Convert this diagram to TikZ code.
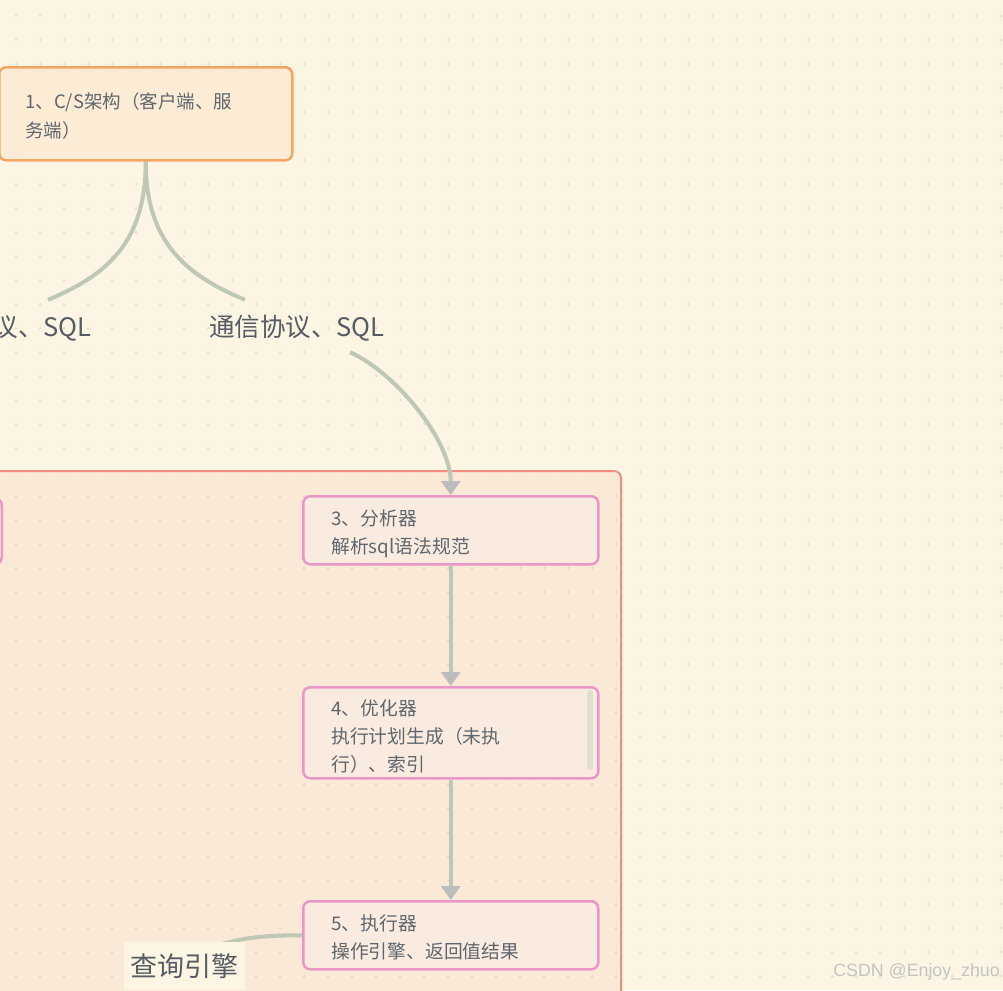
\documentclass[tikz,border=0pt]{standalone}
\usepackage{fontspec}
\newfontfamily\cjk{Noto Sans CJK SC}
\newfontfamily\wmfont{Liberation Sans}
\usetikzlibrary{arrows.meta,backgrounds,calc}
\definecolor{bgc}{RGB}{252,245,227}
\definecolor{dotc}{RGB}{205,200,185}
\definecolor{grpfill}{RGB}{251,233,216}
\definecolor{grpdraw}{RGB}{245,140,130}
\definecolor{pinkdraw}{RGB}{233,150,200}
\definecolor{pinkfill}{RGB}{250,235,224}
\definecolor{orgdraw}{RGB}{245,165,100}
\definecolor{orgfill}{RGB}{252,236,214}
\definecolor{txtc}{RGB}{95,103,110}
\definecolor{labc}{RGB}{85,92,100}
\definecolor{connc}{RGB}{190,200,180}
\definecolor{arrc}{RGB}{188,188,188}
\definecolor{wmc}{RGB}{195,195,195}
\definecolor{scrollc}{RGB}{226,222,204}
\pgfdeclarelayer{edges}
\pgfsetlayers{background,edges,main}
\tikzset{
  pbox/.style={draw=pinkdraw, fill=pinkfill, line width=2.5pt, rounded corners=7pt,
    align=left, inner xsep=28pt, inner ysep=0pt, text width=239pt, minimum width=295pt,
    text=txtc, font=\cjk\fontsize{18.8}{28}\selectfont, anchor=north west},
  obox/.style={draw=orgdraw, fill=orgfill, line width=2.5pt, rounded corners=7pt,
    align=left, inner xsep=26pt, inner ysep=0pt, text width=241pt, minimum width=293pt,
    text=txtc, font=\cjk\fontsize{18.5}{29}\selectfont, anchor=north west},
  lab/.style={text=labc, font=\cjk\fontsize{25.5}{28}\selectfont, minimum height=48pt, inner xsep=6pt},
  conn/.style={draw=connc, line width=4pt},
  arr/.style={-{Triangle[width=19pt,length=14pt,color=arrc]}}
}
\begin{document}
\begin{tikzpicture}[x=1pt,y=-1pt]
\useasboundingbox (0,0) rectangle (1003,990);
\begin{pgfonlayer}{background}
  \fill[bgc] (0,0) rectangle (1003,990);
  \draw[fill=grpfill, draw=grpdraw, line width=2pt, rounded corners=7pt] (-20,471) rectangle (621,1010);
  \foreach \i in {0,...,41} {
    \foreach \j in {0,...,40} {
      \fill[dotc] (16+24*\i,16+24*\j) circle (1pt);
    }
  }
\end{pgfonlayer}

\node[obox, minimum height=93pt, text height=20pt] (b1) at (-2,66) {1、C/S架构（客户端、服\\务端）};
\node[pbox, anchor=north east, minimum height=66pt] (b2) at (3,497) {};
\node[pbox, minimum height=68pt, text height=22pt] (b3) at (302,495) {3、分析器\\解析sql语法规范};
\node[pbox, minimum height=91pt, text height=24pt] (b4) at (302,686) {4、优化器\\执行计划生成（未执\\行）、索引};
\fill[scrollc, rounded corners=3pt] (587,690) rectangle (593,770);
\node[pbox, minimum height=68pt, text height=19pt] (b5) at (302,900) {5、执行器\\操作引擎、返回值结果};

\node[lab] (lab1) at (4,328) {通信协议、SQL};
\node[lab] (lab2) at (297,328) {通信协议、SQL};
\node[lab, fill=bgc, font=\cjk\fontsize{27}{28}\selectfont, minimum width=121pt] (lab3) at (184.5,966) {查询引擎};

\node[text=wmc, font=\wmfont\fontsize{17.8}{18}\selectfont, anchor=east, inner sep=0pt] (wm) at (1000,972) {CSDN @Enjoy\_zhuo};

\begin{pgfonlayer}{edges}
  \draw[conn] (b1.south) .. controls +(0,80) and +(-60,-25) .. ([xshift=-52pt,yshift=4pt]lab2.north);
  \draw[conn] (b1.south) .. controls +(0,80) and +(60,-25) .. ([xshift=44pt,yshift=4pt]lab1.north);
  \draw[conn, arr] ([xshift=53pt]lab2.south) .. controls +(45,20) and +(0,-55) .. (b3.north);
  \draw[conn, arr] (b3) -- (b4);
  \draw[conn, arr] (b4) -- (b5);
  \draw[conn] (b5.west) .. controls +(-45,0) and +(25,-7) .. ([xshift=-30pt,yshift=-4pt]lab3.north east);
\end{pgfonlayer}
\end{tikzpicture}
\end{document}
